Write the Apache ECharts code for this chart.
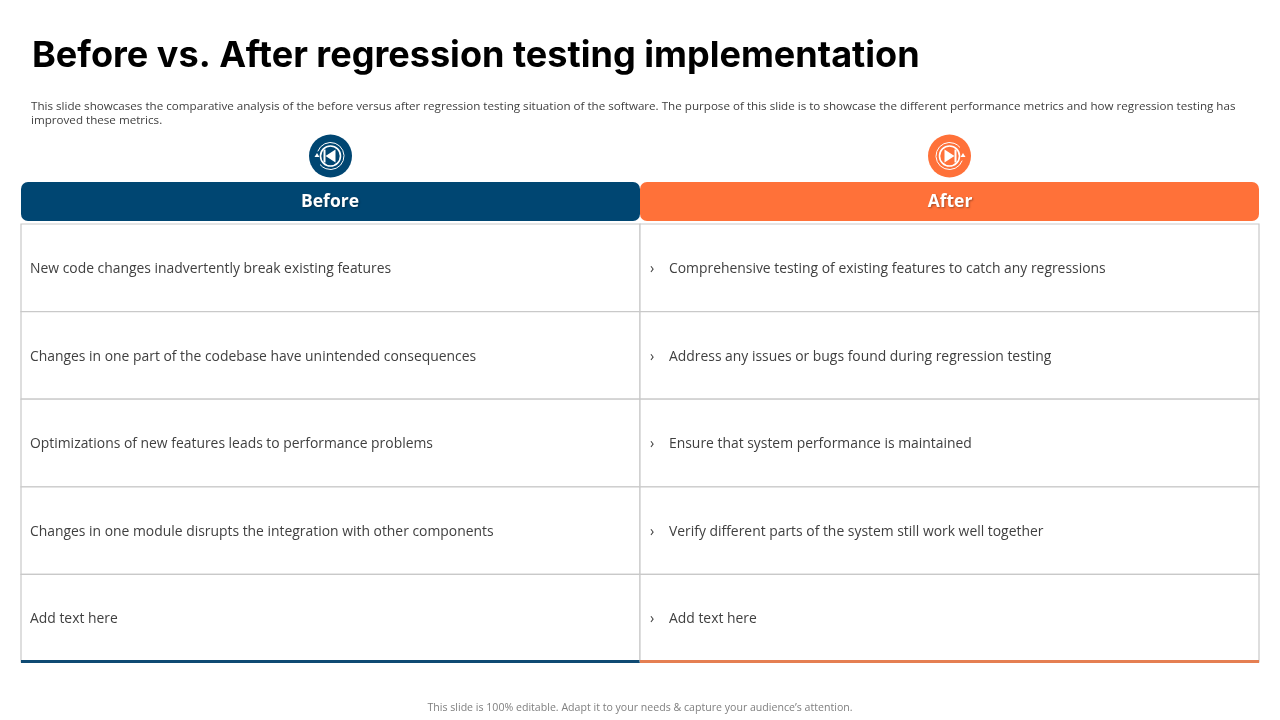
<!DOCTYPE html>
<html>
<head>
<meta charset="utf-8">
<style>html,body{margin:0;padding:0;background:#fff}#chart{width:1280px;height:720px}</style>
<script src="https://cdn.jsdelivr.net/npm/echarts@6/dist/echarts.min.js"></script>
</head>
<body>
<div id="chart"></div>
<script>
var columns = ['Before', 'After'];
var rowIds = ['r1', 'r2', 'r3', 'r4', 'r5'];
var beforeRows = [
    'New code changes inadvertently break existing features',
    'Changes in one part of the codebase have unintended consequences',
    'Optimizations of new features leads to performance problems',
    'Changes in one module disrupts the integration with other components',
    'Add text here'
];
var afterRows = [
    'Comprehensive testing of existing features to catch any regressions',
    'Address any issues or bugs found during regression testing',
    'Ensure that system performance is maintained',
    'Verify different parts of the system still work well together',
    'Add text here'
];
var titleText = 'Before vs. After regression testing implementation';
var descLines = [
    'This slide showcases the comparative analysis of the before versus after regression testing situation of the software. The purpose of this slide is to showcase the different performance metrics and how regression testing has',
    'improved these metrics.'
];
var footerText = 'This slide is 100% editable. Adapt it to your needs & capture your audience\u2019s attention.';

var navy = '#004672';
var orange = '#ff7139';
var lineColor = '#c9c9c9';
var bodyFont = '"Open Sans", sans-serif';
var titleFont = 'Inter, sans-serif';

var cells = [];
beforeRows.forEach(function (t, i) { cells.push([0, i, t]); });
afterRows.forEach(function (t, i) { cells.push([1, i, t]); });

function renderCell(params, api) {
    var col = api.value(0), row = api.value(1);
    var c = api.coord([col, row]);
    var s = api.size([1, 1]);
    var x = Math.round(c[0] - s[0] / 2);
    var y = c[1] - s[1] / 2;
    var w = s[0], h = s[1];
    var last = row === rowIds.length - 1;
    var text = cells[params.dataIndex][2];
    var kids = [{
        type: 'rect',
        shape: { x: x, y: y, width: w, height: h },
        style: { fill: '#fff', stroke: lineColor, lineWidth: 1.2 }
    }];
    if (col === 1) {
        kids.push({
            type: 'text',
            style: { x: x + 10, y: c[1] + 1.2, text: '\u203a', fill: '#404040', font: '14px ' + bodyFont, verticalAlign: 'middle' }
        });
    }
    kids.push({
        type: 'text',
        style: { x: x + (col === 1 ? 29 : 9), y: c[1] + 1.2, text: text, fill: '#404040', font: '13.9px ' + bodyFont, verticalAlign: 'middle' }
    });
    if (last) {
        kids.push({
            type: 'rect',
            shape: { x: x, y: y + h - 2, width: w, height: 3 },
            style: { fill: col === 0 ? '#0f4a73' : '#e57f52' }
        });
    }
    return { type: 'group', children: kids };
}

function headerBar(idx, x, w, color) {
    return {
        type: 'group',
        children: [{
            type: 'rect',
            shape: { x: x, y: 182, width: w, height: 39, r: 7 },
            style: { fill: color }
        }, {
            type: 'text',
            style: {
                x: x + w / 2 - 0.5 + idx, y: 202, text: columns[idx], fill: '#fff',
                font: 'bold 17.5px ' + bodyFont, align: 'center', verticalAlign: 'middle',
                textShadowColor: 'rgba(0,0,0,0.35)', textShadowBlur: 2, textShadowOffsetX: 1, textShadowOffsetY: 1
            }
        }]
    };
}

// round icon above each column, the triangle and bar point back or forward
function icon(cx, color, forward) {
    var dir = forward ? 1 : -1;
    return {
        type: 'group',
        x: cx, y: 156,
        children: [
            { type: 'circle', shape: { cx: 0, cy: 0, r: 21.5 }, style: { fill: color } },
            { type: 'arc', shape: { cx: 0, cy: 0, r: 13.5, startAngle: 0.35, endAngle: 5.6 }, rotation: forward ? 0 : Math.PI, style: { fill: 'none', stroke: '#fff', lineWidth: 1 } },
            { type: 'circle', shape: { cx: 0, cy: 0, r: 10 }, style: { fill: 'none', stroke: '#fff', lineWidth: 1.6 } },
            { type: 'polygon', shape: { points: [[-5 * dir, -6.5], [5 * dir, 0], [-5 * dir, 6.5]] }, style: { fill: '#fff' } },
            { type: 'rect', shape: { x: forward ? 5 : -7, y: -6.5, width: 2, height: 13 }, style: { fill: '#fff' } },
            { type: 'polygon', shape: { points: [[13.5 * dir, -3], [16 * dir, 1], [11 * dir, 1]] }, style: { fill: '#fff' } }
        ]
    };
}

var graphics = [
    { type: 'text', style: { x: 32, y: 56, text: titleText, fill: '#000', font: 'bold 36.07px ' + titleFont, verticalAlign: 'middle' } },
    { type: 'text', style: { x: 31, y: 106.5, text: descLines[0], fill: '#404040', font: '11.63px ' + bodyFont, verticalAlign: 'middle' } },
    { type: 'text', style: { x: 31, y: 120.5, text: descLines[1], fill: '#404040', font: '11.63px ' + bodyFont, verticalAlign: 'middle' } },
    { type: 'text', style: { x: 640, y: 708, text: footerText, fill: '#7f7f7f', font: '10.6px ' + bodyFont, align: 'center', verticalAlign: 'middle' } },
    icon(330.5, navy, false),
    icon(949.5, orange, true),
    headerBar(0, 21, 619, navy),
    headerBar(1, 640, 619, orange)
];

var chart = echarts.init(document.getElementById('chart'), null, { renderer: 'canvas' });
chart.setOption({
    animation: false,
    backgroundColor: '#fff',
    grid: { left: 21, right: 21, top: 224, bottom: 58 },
    xAxis: { type: 'category', data: columns, show: false },
    yAxis: { type: 'category', data: rowIds, inverse: true, show: false },
    graphic: graphics,
    series: [{
        type: 'custom',
        renderItem: renderCell,
        clip: false,
        encode: { x: 0, y: 1 },
        data: cells
    }]
});
</script>
</body>
</html>
